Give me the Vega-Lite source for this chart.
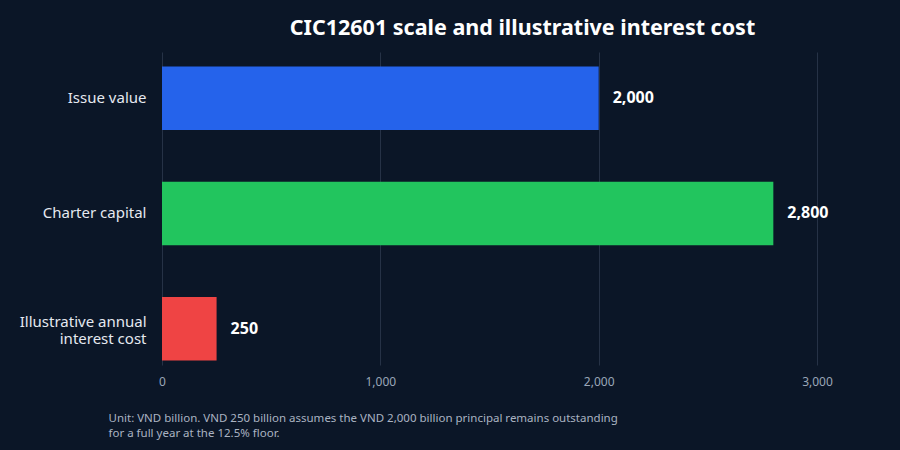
{
  "$schema": "https://vega.github.io/schema/vega-lite/v6.json",
  "width": 655,
  "height": 313,
  "autosize": {"type": "none"},
  "padding": {"left": 162, "top": 52, "right": 83, "bottom": 85},
  "background": "#0b1627",
  "title": {
    "text": "CIC12601 scale and illustrative interest cost",
    "font": "Noto Sans",
    "fontSize": 21.5,
    "fontWeight": "bold",
    "color": "#ffffff",
    "anchor": "middle",
    "dx": 33,
    "dy": 21,
    "baseline": "alphabetic",
    "offset": 17
  },
  "data": {
    "values": [
      {"metric": "Issue value", "value": 2000, "color": "#2563eb"},
      {"metric": "Charter capital", "value": 2800, "color": "#22c55e"},
      {"metric": "Illustrative annual interest cost", "value": 250, "color": "#ef4444"}
    ]
  },
  "encoding": {
    "y": {
      "field": "metric",
      "type": "nominal",
      "sort": null,
      "scale": {"paddingInner": 0.449, "paddingOuter": 0.0824, "align": 0.76},
      "axis": {
        "title": null,
        "domain": false,
        "ticks": false,
        "labelPadding": 16,
        "labelFont": "Noto Sans",
        "labelFontSize": 15,
        "labelColor": "#e5e9f0",
        "labelLineHeight": 17,
        "labelExpr": "datum.label == 'Illustrative annual interest cost' ? ['Illustrative annual', 'interest cost'] : datum.label",
        "labelOffset": {"expr": "datum.value == 'Illustrative annual interest cost' ? -7 : 0"}
      }
    },
    "x": {
      "field": "value",
      "type": "quantitative",
      "scale": {"domain": [0, 3000], "nice": false},
      "axis": {
        "values": [0, 1000, 2000, 3000],
        "labelExpr": "format(datum.value, ',')",
        "labelFlush": false,
        "domain": false,
        "ticks": false,
        "grid": true,
        "gridColor": "#263246",
        "gridWidth": 1,
        "labelPadding": 11,
        "labelFont": "Noto Sans",
        "labelFontSize": 12,
        "labelColor": "#9aa6b8",
        "title": [
          "Unit: VND billion. VND 250 billion assumes the VND 2,000 billion principal remains outstanding",
          "for a full year at the 12.5% floor."
        ],
        "titleFont": "Noto Sans",
        "titleFontSize": 11.5,
        "titleFontWeight": "normal",
        "titleColor": "#aab3c2",
        "titleAlign": "left",
        "titleBaseline": "top",
        "titleLineHeight": 15,
        "titleX": -54,
        "titleY": 47
      }
    }
  },
  "layer": [
    {
      "mark": {"type": "bar"},
      "encoding": {
        "color": {"field": "color", "type": "nominal", "scale": null}
      }
    },
    {
      "mark": {
        "type": "text",
        "align": "left",
        "baseline": "middle",
        "dx": 14,
        "font": "Noto Sans",
        "fontSize": 16,
        "fontWeight": "bold",
        "color": "#ffffff"
      },
      "encoding": {
        "text": {"field": "value", "type": "quantitative", "format": ","}
      }
    }
  ],
  "config": {
    "view": {"stroke": null}
  }
}
